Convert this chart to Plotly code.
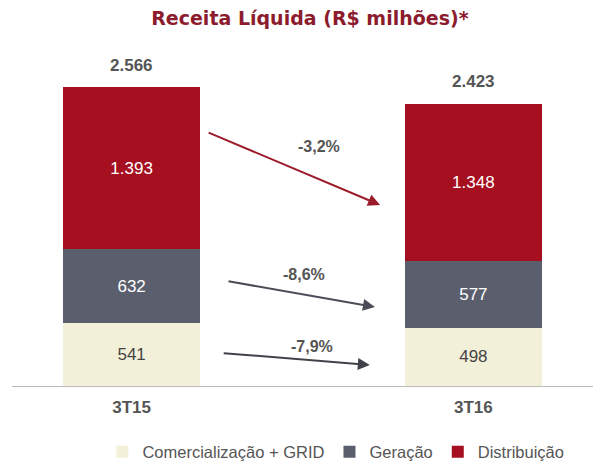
import plotly.graph_objects as go

periods = ["3T15", "3T16"]
comercializacao = [541, 498]
geracao = [632, 577]
distribuicao = [1393, 1348]
totals = [2566, 2423]
series_names = ["Comercialização + GRID", "Geração", "Distribuição"]
change_labels = ["-3,2%", "-8,6%", "-7,9%"]

colors = ["#F3F0DA", "#5A5E6D", "#A50F20"]
text_colors = ["#444444", "#FFFFFF", "#FFFFFF"]

x = [0, 1]
fig = go.Figure()
for name, vals, col, tc in zip(series_names, [comercializacao, geracao, distribuicao], colors, text_colors):
    fig.add_trace(go.Bar(
        x=x, y=vals, name=name, width=0.4,
        marker=dict(color=col, line=dict(width=0)),
        texttemplate="%{y:,}", textposition="inside", insidetextanchor="middle",
        textfont=dict(color=tc, size=17, family="Liberation Sans"),
        hoverinfo="skip",
    ))

ann = []
for xi, t in zip(x, totals):
    ann.append(dict(x=xi, y=t, xref="x", yref="y", text="<b>" + f"{t:,}".replace(",", ".") + "</b>",
                    showarrow=False, yshift=22, font=dict(size=17, color="#555555", family="Liberation Sans")))

# arrows (tail -> head) and label anchor, in data coordinates
arrows = [
    ((0.221, 2180), (0.727, 1554), "#9B1B2A", (0.548, 2060)),
    ((0.279, 901), (0.712, 678), "#4A4D57", (0.504, 953)),
    ((0.265, 283), (0.697, 180), "#3F4249", (0.528, 343)),
]
for (tail, head, col, lab), txt in zip(arrows, change_labels):
    ann.append(dict(x=head[0], y=head[1], ax=tail[0], ay=tail[1], xref="x", yref="y",
                    axref="x", ayref="y", showarrow=True, arrowhead=2, arrowsize=1.2,
                    arrowwidth=2, arrowcolor=col, text=""))
    ann.append(dict(x=lab[0], y=lab[1], xref="x", yref="y", text="<b>" + txt + "</b>", showarrow=False,
                    font=dict(size=16, color="#555555", family="Liberation Sans")))

fig.update_layout(
    barmode="stack",
    separators=",.",
    width=605, height=463,
    margin=dict(l=4, r=20, t=32, b=85),
    paper_bgcolor="white", plot_bgcolor="white",
    title=dict(text="<b>Receita Líquida (R$ milhões)*</b>", x=0.499, xanchor="center",
               y=0.978, yanchor="middle",
               font=dict(size=19, color="#8C1C2D", family="DejaVu Sans")),
    xaxis=dict(range=[-0.35, 1.35], tickmode="array", tickvals=x,
               ticktext=["<b>" + p + "</b>" for p in periods],
               tickfont=dict(size=17, color="#555555", family="Liberation Sans"),
               showline=True, linecolor="#BBBBBB", linewidth=1, showgrid=False, zeroline=False,
               ticks="", ticklabelstandoff=6),
    yaxis=dict(range=[0, 2970], visible=False, showgrid=False),
    legend=dict(orientation="h", xref="container", yref="container", x=0.156, xanchor="left",
                y=0.041, yanchor="middle",
                font=dict(size=16.5, color="#555555", family="Liberation Sans"),
                traceorder="normal", itemwidth=30),
    annotations=ann,
    showlegend=True,
)
fig.write_html("out.html")
